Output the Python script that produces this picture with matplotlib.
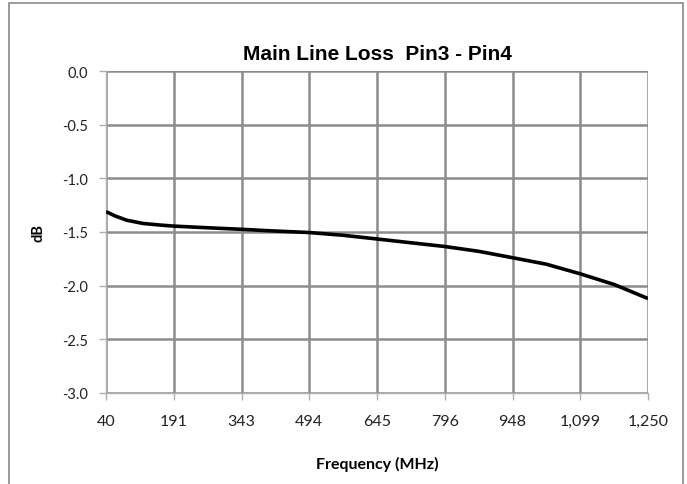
import matplotlib
matplotlib.use("Agg")
import matplotlib.pyplot as plt
from matplotlib.patches import Rectangle

# Data
freq_mhz = [40, 60, 86, 122, 160, 191, 264, 343, 412, 494, 568, 645,
            720, 796, 872, 948, 1023, 1099, 1175, 1250]
loss_db = [-1.31, -1.35, -1.39, -1.42, -1.435, -1.445, -1.46, -1.475, -1.49,
           -1.505, -1.53, -1.565, -1.60, -1.635, -1.68, -1.74, -1.80, -1.89,
           -1.99, -2.12]
x_ticks = [40, 191.25, 342.5, 493.75, 645, 796.25, 947.5, 1098.75, 1250]
x_tick_labels = ["40", "191", "343", "494", "645", "796", "948", "1,099", "1,250"]
y_ticks = [0.0, -0.5, -1.0, -1.5, -2.0, -2.5, -3.0]

W, H = 687, 485
fig = plt.figure(figsize=(W / 100, H / 100), dpi=100)
fig.patch.set_facecolor("white")

# outer chart border
fig.patches.append(Rectangle((9 / W, -0.05), (683 - 9) / W, 1.05 - 4 / H,
                             transform=fig.transFigure, fill=False,
                             edgecolor="#8a8a8a", linewidth=1.2))

left, right, top, bottom = 106, 648, 72, 394
ax = fig.add_axes([left / W, 1 - bottom / H, (right - left) / W, (bottom - top) / H])

grid_c = "#8c8c8c"
for xt in x_ticks:
    ax.axvline(xt, color=grid_c, linewidth=1.8, zorder=1)
for yt in y_ticks:
    ax.axhline(yt, color=grid_c, linewidth=1.8, zorder=1)

ax.plot(freq_mhz, loss_db, color="black", linewidth=2.6, zorder=3,
        solid_capstyle="butt")

ax.set_xlim(40, 1250)
ax.set_ylim(-3.0, 0.0)
ax.set_xticks(x_ticks)
ax.set_xticklabels(x_tick_labels)
ax.set_yticks(y_ticks)
ax.set_yticklabels([f"{v:.1f}" for v in y_ticks])

for s in ["top", "right"]:
    ax.spines[s].set_visible(False)
for s in ["left", "bottom"]:
    ax.spines[s].set_color("#b0b0b0")
    ax.spines[s].set_linewidth(1.0)

ax.tick_params(axis="both", direction="out", length=5, width=1.0,
               color="#b0b0b0", labelcolor="#222222")
ax.tick_params(axis="x", pad=10, labelsize=11.5)
ax.tick_params(axis="y", pad=8, labelsize=10.5)
for lbl in ax.get_xticklabels() + ax.get_yticklabels():
    lbl.set_family(["Lato", "DejaVu Sans"])

ax.set_title("Main Line Loss  Pin3 - Pin4", fontsize=15, fontweight="bold",
             family=["Liberation Sans", "DejaVu Sans"], pad=9)
ax.set_xlabel("Frequency (MHz)", fontsize=11.5, fontweight="bold",
              family=["Lato", "DejaVu Sans"], labelpad=20)
ax.set_ylabel("dB", fontsize=10.5, fontweight="bold",
              family=["Lato", "DejaVu Sans"], labelpad=12)

fig.savefig("out.png", dpi=100)
